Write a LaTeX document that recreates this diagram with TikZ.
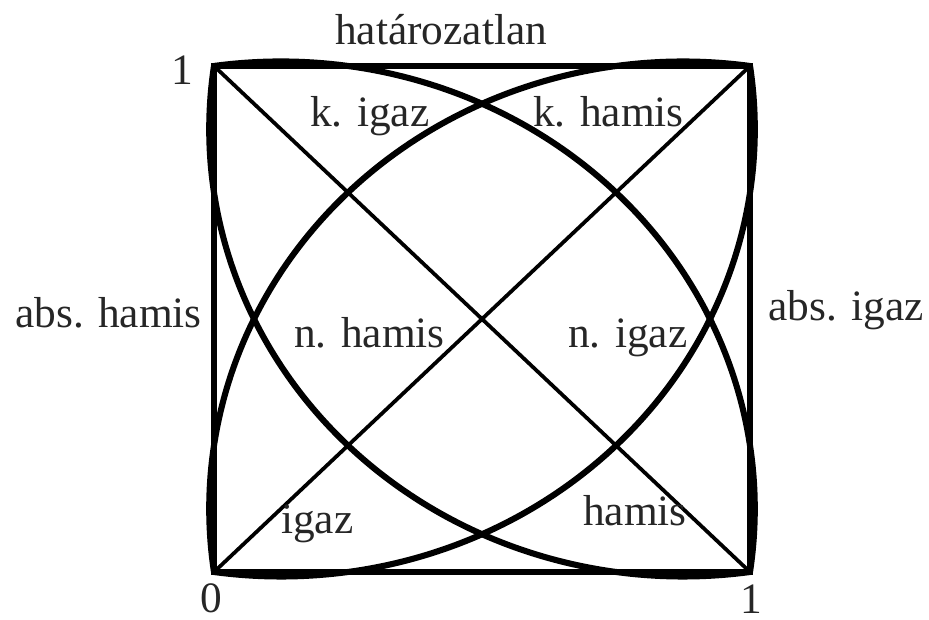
\documentclass[tikz,border=0pt]{standalone}
\usepackage{fontspec}
\setmainfont{Liberation Serif}
\begin{document}
\begin{tikzpicture}[x=0.03cm,y=-0.03cm,
  lbl/.style={inner sep=0pt,font=\fontsize{37}{40}\selectfont,text=black!85},
  frame/.style={line width=5.6pt,black},
  diag/.style={line width=3.2pt,black},
  bow/.style={line width=5.2pt,black}]
\useasboundingbox (0,0) rectangle (929,620);
\coordinate (BL) at (214,572);
\coordinate (BR) at (750,572);
\coordinate (TR) at (750,66);
\coordinate (TL) at (214,66);
% frame
\draw[frame] (BL) -- (BR) -- (TR) -- (TL) -- cycle;
% diagonals
\draw[diag] (BL) -- (TR);
\draw[diag] (TL) -- (BR);
% four arcs between opposite corners
\begin{scope}[shift={(BL)},x=16.08cm,y=15.18cm]
  \draw[bow] (0,0) arc[start angle=188.13,end angle=81.87,radius=0.8839];
  \draw[bow] (1,1) arc[start angle=8.13,end angle=-98.13,radius=0.8839];
  \draw[bow] (0,1) arc[start angle=98.13,end angle=-8.13,radius=0.8839];
  \draw[bow] (0,1) arc[start angle=171.87,end angle=278.13,radius=0.8839];
\end{scope}
% labels
\node[lbl,anchor=base west] (hat) at (335,45) {határozatlan};
\node[lbl,anchor=base west] (one1) at (171,85) {1};
\node[lbl,anchor=base west] (kigaz) at (310,127) {k. igaz};
\node[lbl,anchor=base east] (khamis) at (684,127) {k. hamis};
\node[lbl,anchor=base west] (abshamis) at (15,327) {abs. hamis};
\node[lbl,anchor=base west] (absigaz) at (768,320) {abs. igaz};
\node[lbl,anchor=base west] (nhamis) at (294,347) {n. hamis};
\node[lbl,anchor=base west] (nigaz) at (568,347) {n. igaz};
\node[lbl,anchor=base west] (igaz) at (281,533) {igaz};
\node[lbl,anchor=base west] (hamis) at (583,525) {hamis};
\node[lbl,anchor=base] (zero) at (211,612) {0};
\node[lbl,anchor=base] (one2) at (751,613) {1};
\end{tikzpicture}
\end{document}
